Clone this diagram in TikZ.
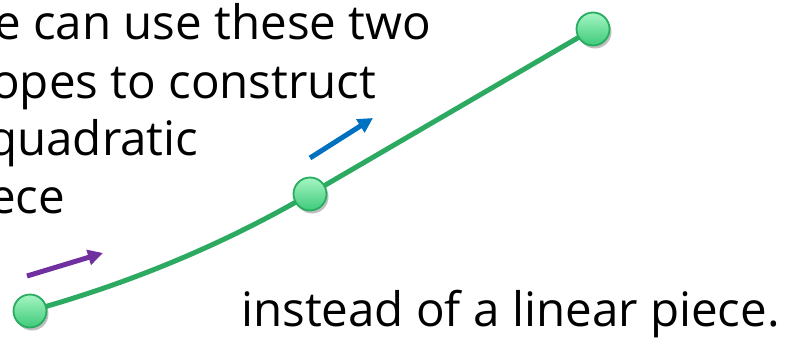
\documentclass[tikz,border=0pt]{standalone}
\usepackage{fontspec}
\setmainfont{Open Sans}
\usetikzlibrary{arrows.meta,shadows}
\definecolor{curvegreen}{RGB}{44,170,98}
\definecolor{ptborder}{RGB}{40,172,96}
\definecolor{pttop}{RGB}{165,245,195}
\definecolor{ptbottom}{RGB}{62,202,122}
\definecolor{slopepurple}{RGB}{112,48,160}
\definecolor{slopeblue}{RGB}{0,112,192}
\tikzset{
  curve/.style={draw=curvegreen, line width=5pt},
  ctrlpt/.style={circle, minimum size=33pt, inner sep=0pt, draw=ptborder, line width=1.8pt,
    top color=pttop, bottom color=ptbottom,
    drop shadow={shadow xshift=2pt, shadow yshift=-3pt, opacity=0.25, fill=black}},
  slope/.style={line width=5pt, -{Triangle[length=15pt,width=15pt]}},
  txt/.style={font=\fontsize{47.5}{57}\selectfont, inner sep=0pt, anchor=base west, text=black}
}
\begin{document}
\begin{tikzpicture}[x=1pt,y=-1pt]
\useasboundingbox (0,0) rectangle (789,337);
\begin{scope}
\clip (0,0) rectangle (789,337);
\node[txt] (t1) at (-6,40) {e can use these two};
\node[txt] (t2) at (-9,98) {opes to construct};
\node[txt] (t3) at (-12,155) {quadratic};
\node[txt] (t4) at (-11,213) {ece};
\end{scope}
\node[txt] (t5) at (241,326) {instead of a linear piece.};
% curve
\coordinate (p0) at (30,311);
\coordinate (p1) at (310,194);
\coordinate (p2) at (593,29);
\draw[curve] (p0) .. controls (131,283) and (224,244) .. (p1) -- (p2);
% slopes
\coordinate (a0) at (27,276);
\coordinate (a1) at (103,253);
\coordinate (b0) at (310,158);
\coordinate (b1) at (373,118);
\draw[slope, slopepurple] (a0) -- (a1);
\draw[slope, slopeblue] (b0) -- (b1);
% points
\node[ctrlpt] (n0) at (p0) {};
\node[ctrlpt] (n1) at (p1) {};
\node[ctrlpt] (n2) at (p2) {};
\end{tikzpicture}
\end{document}
